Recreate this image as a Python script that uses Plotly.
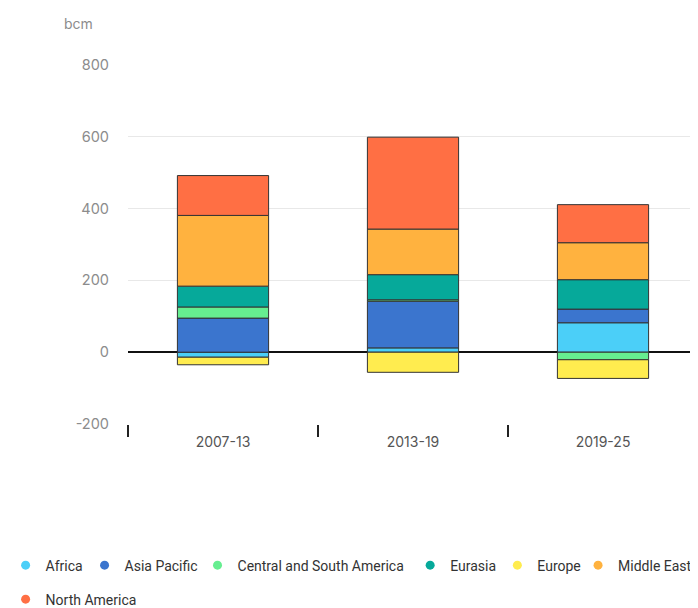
import plotly.graph_objects as go

periods = ["2007-13", "2013-19", "2019-25"]
regions = ["Africa", "Asia Pacific", "Central and South America", "Eurasia",
           "Europe", "Middle East", "North America"]
africa = [-14, 12, 82]
asia_pacific = [95, 130, 38]
central_south_america = [31, 4, -21]
eurasia = [58, 70, 82]
europe = [-21, -56, -52]
middle_east = [197, 127, 103]
north_america = [111, 256, 106]
series = [africa, asia_pacific, central_south_america, eurasia, europe, middle_east, north_america]
colors = ["#4BCFF8", "#3B75CE", "#66EE90", "#06A99A", "#FFEC4F", "#FFB23F", "#FF6F44"]
y_ticks = [-200, 0, 200, 400, 600, 800]
y_tick_labels = ["-200", "0", "200", "400", "600", "800"]

# page body has an 8px margin, so the figure is drawn 8px in from the window corner
W, H = 690, 600
L, T = 119.7, 57
pw, ph = 570.3, 359.3
R, B = W - L - pw, H - T - ph

# legend entry placement (left edge x in figure pixels, row centre y in figure pixels)
legend_left_x = [-2.75, 76.25, 189.25, 402, 489.25, 570, -2.75]
legend_row_y = [558, 558, 558, 558, 558, 558, 592]

fig = go.Figure()
for name, vals, c in zip(regions, series, colors):
    fig.add_trace(go.Bar(x=periods, y=vals, name=name, marker_color=c,
                         marker_line_color="#333333", marker_line_width=1,
                         width=0.48, showlegend=False))

legend_layout = {}
for i, (name, c) in enumerate(zip(regions, colors)):
    key = "legend" if i == 0 else f"legend{i + 1}"
    fig.add_trace(go.Scatter(x=[None], y=[None], mode="markers", name=name,
                             legend=key,
                             marker=dict(symbol="circle", size=9, color=c)))
    legend_layout[key] = dict(
        orientation="h", xanchor="left", yanchor="middle",
        x=(legend_left_x[i] - L) / pw,
        y=(ph - (legend_row_y[i] - T)) / ph,
        font=dict(family="Roboto", size=14, color="#333333"),
        bgcolor="rgba(0,0,0,0)", itemclick=False, itemdoubleclick=False)

fig.update_layout(
    width=W, height=H, barmode="relative",
    margin=dict(l=L, r=R, t=T, b=B, autoexpand=False),
    plot_bgcolor="white", paper_bgcolor="white",
    font=dict(family="Inter", color="#555555"),
    xaxis=dict(type="category", range=[-0.5, 2.5], showgrid=False,
               ticks="outside", tickson="boundaries", ticklen=12, tickwidth=1.5,
               tickcolor="#222222", showline=False, zeroline=False,
               ticklabelstandoff=8,
               tickfont=dict(size=14, color="#555555")),
    yaxis=dict(range=[-200, 800], tickvals=y_ticks, ticktext=y_tick_labels,
               showgrid=True, gridcolor="#E8E8E8", gridwidth=1, zeroline=True,
               zerolinecolor="#111111", zerolinewidth=1.5,
               tickfont=dict(size=14.5, color="#8C8C8C"), ticklabelstandoff=18),
    annotations=[dict(text="bcm", xref="paper", yref="paper",
                      x=(54 - L) / pw, y=(ph - (15 - T)) / ph,
                      xanchor="left", yanchor="middle", showarrow=False,
                      font=dict(size=14, color="#8C8C8C"))],
    **legend_layout,
)
fig.write_html("out.html")
